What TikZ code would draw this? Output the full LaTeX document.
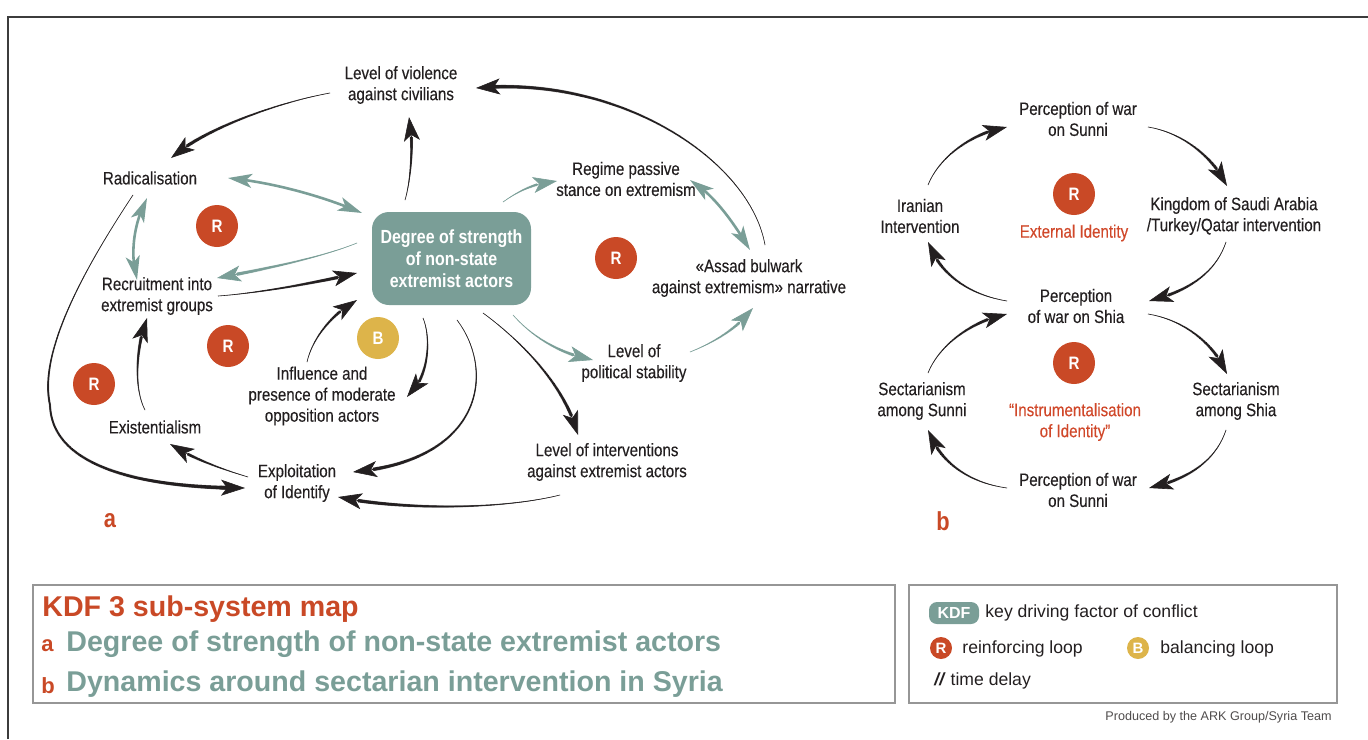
\documentclass[tikz,border=0pt]{standalone}
\usepackage{fontspec}
\setmainfont{Liberation Sans}[FakeStretch=0.84, UprightFeatures={FakeBold=0.25}]
\newfontfamily\legfont{Liberation Sans}
\usetikzlibrary{arrows.meta,bending,decorations.markings}
\definecolor{kteal}{RGB}{122,158,151}
\definecolor{kred}{RGB}{201,73,38}
\definecolor{kredt}{RGB}{208,72,42}
\definecolor{kyel}{RGB}{221,180,74}
\definecolor{ktext}{RGB}{35,31,32}
\definecolor{kgray}{RGB}{150,150,150}
\definecolor{kframe}{RGB}{60,60,60}
\tikzset{
  lbl/.style={font=\fontsize{9pt}{10.5pt}\selectfont, align=center, inner sep=0pt, text=ktext},
  rlbl/.style={lbl, text=kredt},
  loopc/.style={circle, fill=#1, text=white, minimum size=21pt, inner sep=0pt,
    font=\bfseries\fontsize{9pt}{10pt}\selectfont},
  smallc/.style={circle, fill=#1, text=white, minimum size=11pt, inner sep=0pt,
    font=\legfont\bfseries\fontsize{7.5pt}{8pt}\selectfont},
  degbox/.style={rounded corners=8.5pt, fill=kteal, text=white, align=center,
    minimum width=79.5pt, minimum height=46.5pt, inner sep=0pt,
    font=\bfseries\fontsize{9.5pt}{11pt}\selectfont},
  tap/.style={draw=#1, line width=0.3pt, -{Stealth[length=12pt,width=8pt,inset=3pt,flex]},
    postaction={decorate, decoration={markings,
      mark=between positions 0 and -10pt step 0.5pt with {%
        \pgfmathsetmacro\rr{0.1+0.95*\pgfkeysvalueof{/pgf/decoration/mark info/distance from start}/\pgfdecoratedpathlength}%
        \fill[#1] (0,0) circle (\rr pt);}}}},
  dbl/.style={draw=kteal, line width=1.3pt,
    {Stealth[length=12pt,width=7pt,inset=3pt,flex]}-{Stealth[length=12pt,width=7pt,inset=3pt,flex]}},
  legt/.style={anchor=west, inner sep=0pt, font=\legfont\fontsize{8.8pt}{10pt}\selectfont, text=ktext},
}
\begin{document}
\begin{tikzpicture}[x=0.5pt,y=-0.5pt]
\useasboundingbox (0,0) rectangle (1368,739);
% outer frame
\draw[kframe, line width=1pt] (8,739) -- (8,17) -- (1368,17);

% ---------------- diagram a ----------------
\node[degbox] (deg) at (451.5,258.5) {Degree of strength\\of non-state\\extremist actors};
\node[lbl] (viol) at (401,85) {Level of violence\\against civilians};
\node[lbl] (rad) at (150,178) {Radicalisation};
\node[lbl] (recr) at (157,296) {Recruitment into\\extremist groups};
\node[lbl] (exis) at (155,427) {Existentialism};
\node[lbl] (expl) at (297,483) {Exploitation\\of Identify};
\node[lbl] (infl) at (322,396) {Influence and\\presence of moderate\\opposition actors};
\node[lbl] (interv) at (607,462) {Level of interventions\\against extremist actors};
\node[lbl] (polit) at (634,363) {Level of\\political stability};
\node[lbl] (assad) at (749,278) {«Assad bulwark\\against extremism» narrative};
\node[lbl] (regime) at (626,179) {Regime passive\\stance on extremism};

\node[loopc=kred] (r1) at (217,226) {R};
\node[loopc=kred] (r2) at (616,258) {R};
\node[loopc=kred] (r3) at (228,346) {R};
\node[loopc=kred] (r4) at (94,384) {R};
\node[loopc=kyel] (b1) at (378,338) {B};
\node[font=\bfseries\fontsize{13pt}{14pt}\selectfont, text=kred, inner sep=0pt] (la) at (110,521) {a};

% arrows a
\path[tap=ktext] ([shift={(-71,8)}]viol.center) .. controls (280,102) and (205,128) .. ([shift={(21,-20)}]rad.center);
\path[tap=ktext] ([shift={(-46.5,-58.5)}]deg.center) .. controls (411,180) and (414,140) .. ([shift={(8,32)}]viol.center);
\path[tap=ktext] ([shift={(16,-33)}]assad.center) .. controls (750,160) and (620,75) .. ([shift={(75,3)}]viol.center);
\path[dbl] ([shift={(78,0)}]rad.center) .. controls (270,182) and (320,195) .. ([shift={(-89.5,-45.5)}]deg.center);
\path[dbl] ([shift={(-3,20)}]rad.center) .. controls (133,225) and (130,255) .. ([shift={(-20,-16)}]recr.center);
\path[tap=kteal] ([shift={(-94.5,-15.5)}]deg.center) .. controls (320,258) and (260,270) .. ([shift={(60,-18)}]recr.center);
\path[tap=ktext] ([shift={(61,0)}]recr.center) .. controls (260,293) and (320,282) .. ([shift={(-94.5,14.5)}]deg.center);
\path[tap=ktext] ([shift={(-15,-34)}]infl.center) .. controls (312,340) and (330,315) .. ([shift={(-94.5,41.5)}]deg.center);
\path[tap=ktext] ([shift={(-10,-17)}]exis.center) .. controls (132,385) and (138,340) .. ([shift={(-10,22)}]recr.center);
\path[tap=ktext] ([shift={(-49,-6)}]expl.center) .. controls (225,470) and (195,460) .. ([shift={(15,17)}]exis.center);
\path[tap=ktext] ([shift={(-17,17)}]rad.center) .. controls (70,290) and (40,360) .. (50,405) .. controls (52,470) and (150,488) .. ([shift={(-52,5)}]expl.center);
\path[tap=ktext] ([shift={(-28.5,59.5)}]deg.center) .. controls (432,340) and (428,380) .. ([shift={(85,1)}]infl.center);
\path[tap=ktext] ([shift={(5.5,61.5)}]deg.center) .. controls (495,370) and (485,460) .. ([shift={(56,-11)}]expl.center);
\path[tap=ktext] ([shift={(31.5,54.5)}]deg.center) .. controls (520,340) and (565,385) .. ([shift={(-29,-27)}]interv.center);
\path[tap=kteal] ([shift={(61.5,56.5)}]deg.center) .. controls (535,340) and (565,355) .. ([shift={(-41,-3)}]polit.center);
\path[tap=kteal] ([shift={(56,-11)}]polit.center) .. controls (720,340) and (740,325) .. ([shift={(4,30)}]assad.center);
\path[tap=kteal] ([shift={(51.5,-56.5)}]deg.center) .. controls (520,190) and (535,183) .. ([shift={(-69,2)}]regime.center);
\path[dbl] ([shift={(64,1)}]regime.center) .. controls (715,195) and (735,225) .. ([shift={(1,-28)}]assad.center);
\path[tap=ktext] ([shift={(-47,33)}]interv.center) .. controls (500,510) and (400,510) .. ([shift={(41,14)}]expl.center);

% ---------------- diagram b ----------------
\node[lbl] (tsun) at (1078,119) {Perception of war\\on Sunni};
\node[lbl] (iran) at (920,216) {Iranian\\Intervention};
\node[lbl] (king) at (1234,216) {Kingdom of Saudi Arabia\\/Turkey/Qatar intervention};
\node[lbl] (shia) at (1076,306) {Perception\\of war on Shia};
\node[lbl] (ssun) at (922,401) {Sectarianism\\among Sunni};
\node[lbl] (sshi) at (1236,401) {Sectarianism\\among Shia};
\node[lbl] (bsun) at (1078,490) {Perception of war\\on Sunni};
\node[loopc=kred] (rb1) at (1074,194) {R};
\node[rlbl] (ext) at (1074,233) {External Identity};
\node[loopc=kred] (rb2) at (1074,363) {R};
\node[rlbl] (instr) at (1075,422) {“Instrumentalisation\\of Identity”};
\node[font=\bfseries\fontsize{13pt}{14pt}\selectfont, text=kred, inner sep=0pt] (lb) at (943,521) {b};

\path[tap=ktext] ([shift={(8,-31)}]iran.center) .. controls (940,155) and (975,132) .. ([shift={(-71,8)}]tsun.center);
\path[tap=ktext] ([shift={(70,8)}]tsun.center) .. controls (1185,133) and (1215,160) .. ([shift={(-7,-30)}]king.center);
\path[tap=ktext] ([shift={(-8,26)}]king.center) .. controls (1215,275) and (1185,292) .. ([shift={(73,-5)}]shia.center);
\path[tap=ktext] ([shift={(-69,-5)}]shia.center) .. controls (970,295) and (940,275) .. ([shift={(8,26)}]iran.center);
\path[tap=ktext] ([shift={(6,-28)}]ssun.center) .. controls (940,343) and (975,320) .. ([shift={(-69,8)}]shia.center);
\path[tap=ktext] ([shift={(72,8)}]shia.center) .. controls (1185,320) and (1215,345) .. ([shift={(-9,-27)}]sshi.center);
\path[tap=ktext] ([shift={(-10,29)}]sshi.center) .. controls (1215,463) and (1185,480) .. ([shift={(71,-2)}]bsun.center);
\path[tap=ktext] ([shift={(-71,-2)}]bsun.center) .. controls (970,483) and (940,463) .. ([shift={(6,29)}]ssun.center);

% ---------------- legends ----------------
\draw[kgray, line width=1pt] (33,585) rectangle (895,703);
\node[anchor=west, inner sep=0pt, text=kred, font=\legfont\bfseries\fontsize{14.3pt}{16pt}\selectfont] (title) at (42,609) {KDF 3 sub-system map};
\node[anchor=west, inner sep=0pt, text=kred, font=\legfont\bfseries\fontsize{11pt}{12pt}\selectfont] (lga) at (41,646) {a};
\node[anchor=west, inner sep=0pt, text=kteal, font=\legfont\bfseries\fontsize{14.3pt}{16pt}\selectfont] (lgat) at (66,644) {Degree of strength of non-state extremist actors};
\node[anchor=west, inner sep=0pt, text=kred, font=\legfont\bfseries\fontsize{11pt}{12pt}\selectfont] (lgb) at (41,686) {b};
\node[anchor=west, inner sep=0pt, text=kteal, font=\legfont\bfseries\fontsize{14.3pt}{16pt}\selectfont] (lgbt) at (66,684) {Dynamics around sectarian intervention in Syria};

\draw[kgray, line width=1pt] (909,585) rectangle (1337,703);
\node[fill=kteal, rounded corners=4pt, minimum width=25pt, minimum height=11pt, inner sep=0pt, text=white, font=\legfont\bfseries\fontsize{8pt}{9pt}\selectfont] (kdf) at (954,613) {KDF};
\node[legt] (kdft) at (985,613) {key driving factor of conflict};
\node[smallc=kred] (lr) at (941,648) {R};
\node[legt] (lrt) at (962,649) {reinforcing loop};
\node[smallc=kyel] (lb2) at (1138,648) {B};
\node[legt] (lbt) at (1160,649) {balancing loop};
\node[legt] (td) at (934,681) {\textbf{\textit{//}} time delay};
\node[anchor=east, inner sep=0pt, text=ktext!80, font=\legfont\fontsize{6.3pt}{7pt}\selectfont] (prod) at (1332,717) {Produced by the ARK Group/Syria Team};
\end{tikzpicture}
\end{document}
